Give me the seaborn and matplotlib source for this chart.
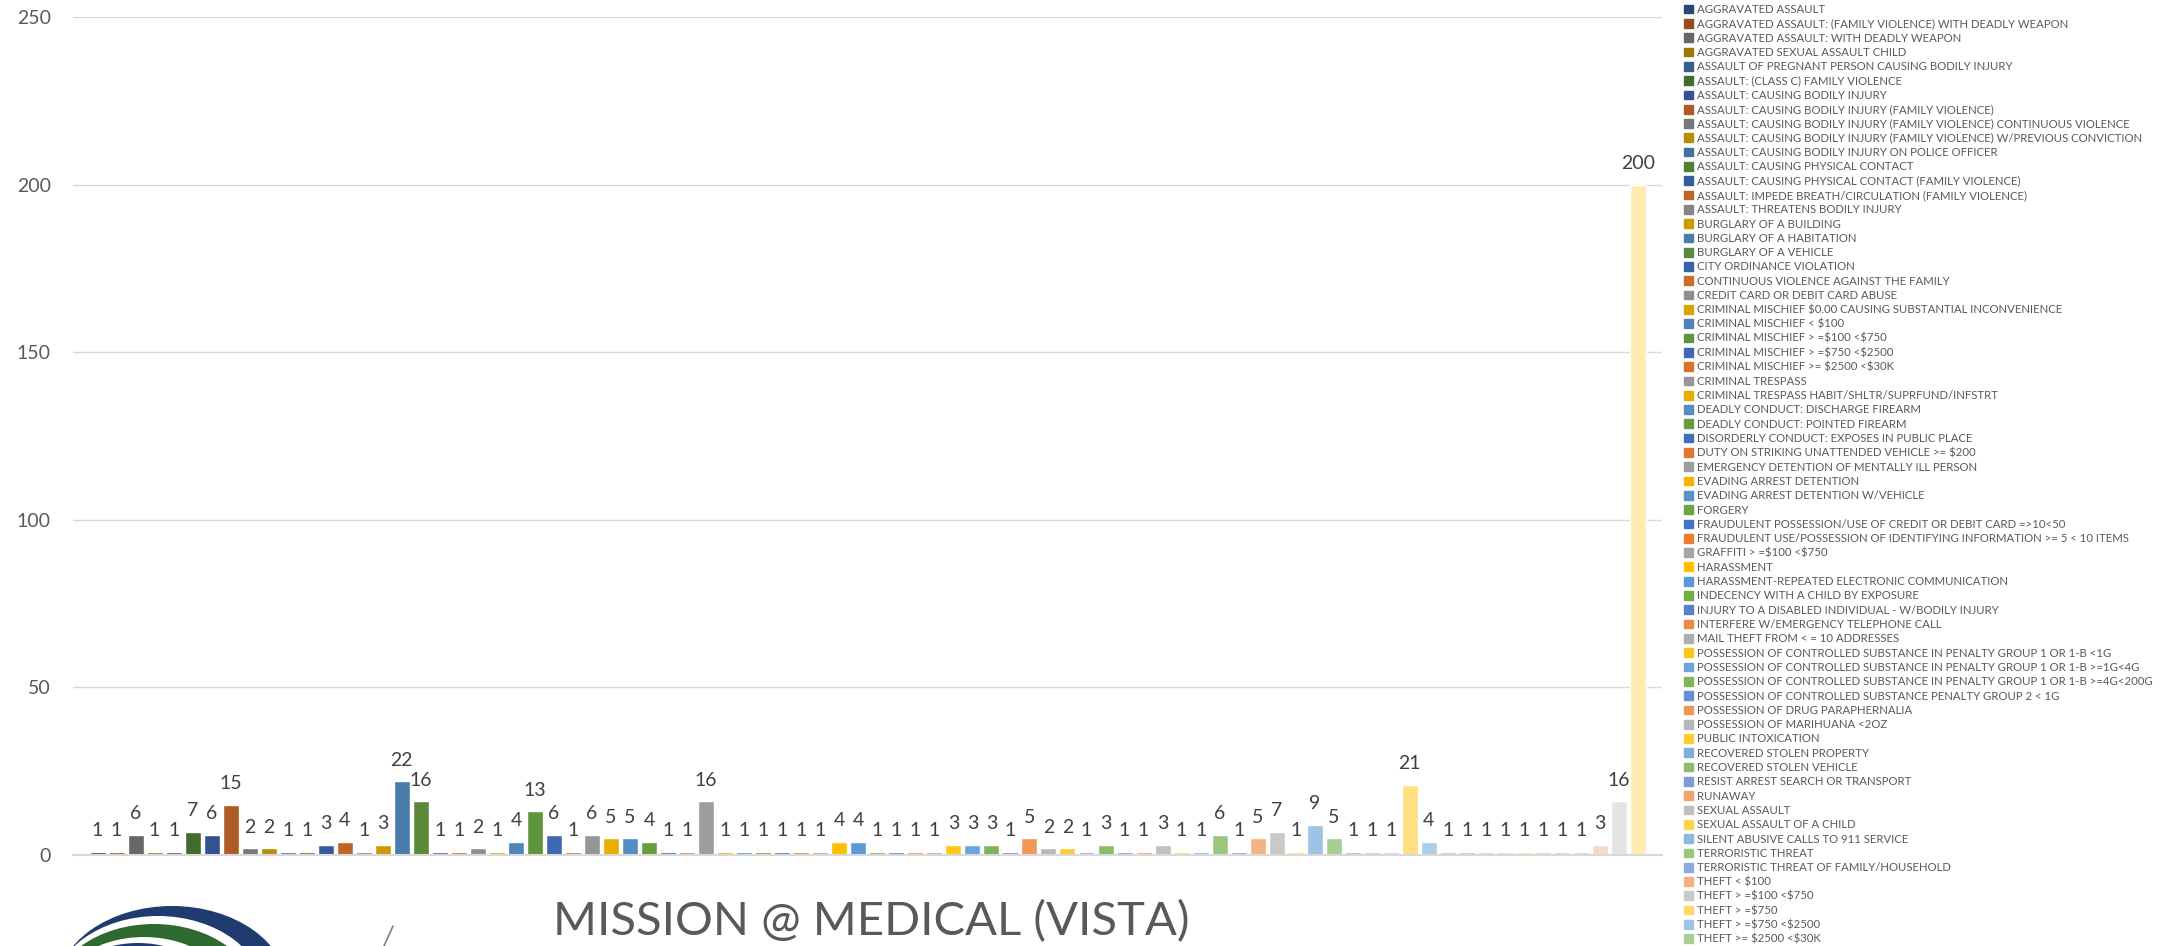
import matplotlib
matplotlib.use("Agg")
import matplotlib.pyplot as plt
import matplotlib.patches as mpatches
from matplotlib.font_manager import FontProperties
import pandas as pd
import seaborn as sns

# offense categories in the order Excel drew them (the legend on the page shows the first 66)
offenses = [
    "AGGRAVATED ASSAULT",
    "AGGRAVATED ASSAULT: (FAMILY VIOLENCE) WITH DEADLY WEAPON",
    "AGGRAVATED ASSAULT: WITH DEADLY WEAPON",
    "AGGRAVATED SEXUAL ASSAULT CHILD",
    "ASSAULT OF PREGNANT PERSON CAUSING BODILY INJURY",
    "ASSAULT: (CLASS C) FAMILY VIOLENCE",
    "ASSAULT: CAUSING BODILY INJURY",
    "ASSAULT: CAUSING BODILY INJURY (FAMILY VIOLENCE)",
    "ASSAULT: CAUSING BODILY INJURY (FAMILY VIOLENCE) CONTINUOUS VIOLENCE",
    "ASSAULT: CAUSING BODILY INJURY (FAMILY VIOLENCE) W/PREVIOUS CONVICTION",
    "ASSAULT: CAUSING BODILY INJURY ON POLICE OFFICER",
    "ASSAULT: CAUSING PHYSICAL CONTACT",
    "ASSAULT: CAUSING PHYSICAL CONTACT (FAMILY VIOLENCE)",
    "ASSAULT: IMPEDE BREATH/CIRCULATION (FAMILY VIOLENCE)",
    "ASSAULT: THREATENS BODILY INJURY",
    "BURGLARY OF A BUILDING",
    "BURGLARY OF A HABITATION",
    "BURGLARY OF A VEHICLE",
    "CITY ORDINANCE VIOLATION",
    "CONTINUOUS VIOLENCE AGAINST THE FAMILY",
    "CREDIT CARD OR DEBIT CARD ABUSE",
    "CRIMINAL MISCHIEF $0.00 CAUSING SUBSTANTIAL INCONVENIENCE",
    "CRIMINAL MISCHIEF < $100",
    "CRIMINAL MISCHIEF > =$100 <$750",
    "CRIMINAL MISCHIEF > =$750 <$2500",
    "CRIMINAL MISCHIEF >= $2500 <$30K",
    "CRIMINAL TRESPASS",
    "CRIMINAL TRESPASS HABIT/SHLTR/SUPRFUND/INFSTRT",
    "DEADLY CONDUCT: DISCHARGE FIREARM",
    "DEADLY CONDUCT: POINTED FIREARM",
    "DISORDERLY CONDUCT: EXPOSES IN PUBLIC PLACE",
    "DUTY ON STRIKING UNATTENDED VEHICLE >= $200",
    "EMERGENCY DETENTION OF MENTALLY ILL PERSON",
    "EVADING ARREST DETENTION",
    "EVADING ARREST DETENTION W/VEHICLE",
    "FORGERY",
    "FRAUDULENT POSSESSION/USE OF CREDIT OR DEBIT CARD =>10<50",
    "FRAUDULENT USE/POSSESSION OF IDENTIFYING INFORMATION >= 5 < 10 ITEMS",
    "GRAFFITI > =$100 <$750",
    "HARASSMENT",
    "HARASSMENT-REPEATED ELECTRONIC COMMUNICATION",
    "INDECENCY WITH A CHILD BY EXPOSURE",
    "INJURY TO A DISABLED INDIVIDUAL - W/BODILY INJURY",
    "INTERFERE W/EMERGENCY TELEPHONE CALL",
    "MAIL THEFT FROM < = 10 ADDRESSES",
    "POSSESSION OF CONTROLLED SUBSTANCE IN PENALTY GROUP 1 OR 1-B <1G",
    "POSSESSION OF CONTROLLED SUBSTANCE IN PENALTY GROUP 1 OR 1-B >=1G<4G",
    "POSSESSION OF CONTROLLED SUBSTANCE IN PENALTY GROUP 1 OR 1-B >=4G<200G",
    "POSSESSION OF CONTROLLED SUBSTANCE PENALTY GROUP 2 < 1G",
    "POSSESSION OF DRUG PARAPHERNALIA",
    "POSSESSION OF MARIHUANA <2OZ",
    "PUBLIC INTOXICATION",
    "RECOVERED STOLEN PROPERTY",
    "RECOVERED STOLEN VEHICLE",
    "RESIST ARREST SEARCH OR TRANSPORT",
    "RUNAWAY",
    "SEXUAL ASSAULT",
    "SEXUAL ASSAULT OF A CHILD",
    "SILENT ABUSIVE CALLS TO 911 SERVICE",
    "TERRORISTIC THREAT",
    "TERRORISTIC THREAT OF FAMILY/HOUSEHOLD",
    "THEFT < $100",
    "THEFT > =$100 <$750",
    "THEFT > =$750",
    "THEFT > =$750 <$2500",
    "THEFT >= $2500 <$30K",
    # below here the legend runs off the page
    "THEFT OF FIREARM",
    "THEFT OF PROPERTY",
    "THEFT OF SERVICE",
    "TRAFFIC ACCIDENT",
    "TRESPASS WARNING",
    "UNAUTHORIZED USE OF VEHICLE",
    "UNLAWFUL CARRYING WEAPON",
    "UNLAWFUL RESTRAINT",
    "VIOLATION OF BOND CONDITIONS",
    "VIOLATION OF PAROLE",
    "VIOLATION OF PROTECTIVE ORDER",
    "WARRANT ARREST",
    "WARRANT SERVICE",
    "WELFARE CONCERN",
    "OTHER CALLS FOR SERVICE",
    "(BLANK)",
]

counts = [
    1, 1, 6, 1, 1, 7, 6, 15, 2, 2,
    1, 1, 3, 4, 1, 3, 22, 16, 1, 1,
    2, 1, 4, 13, 6, 1, 6, 5, 5, 4,
    1, 1, 16, 1, 1, 1, 1, 1, 1, 4,
    4, 1, 1, 1, 1, 3, 3, 3, 1, 5,
    2, 2, 1, 3, 1, 1, 3, 1, 1, 6,
    1, 5, 7, 1, 9, 5, 1, 1, 1, 21,
    4, 1, 1, 1, 1, 1, 1, 1, 1, 3,
    16, 200,
]

location = "MISSION @ MEDICAL (VISTA)"
legend_rows = 66  # entries that fit on the page

# Office accent colours, cycled with a darker -> lighter shade per round (like Excel does)
accents = ["#4472C4", "#ED7D31", "#A5A5A5", "#FFC000", "#5B9BD5", "#70AD47"]
shades = [-0.38, -0.27, -0.2, -0.14, -0.09, -0.05, 0.0, 0.1, 0.2, 0.3, 0.4, 0.5, 0.6, 0.7]


def shade(hex_color, m):
    r, g, b = matplotlib.colors.to_rgb(hex_color)
    if m < 0:
        return (r * (1 + m), g * (1 + m), b * (1 + m))
    return (r + (1 - r) * m, g + (1 - g) * m, b + (1 - b) * m)


palette = [shade(accents[i % 6], shades[i // 6]) for i in range(len(offenses))]

df = pd.DataFrame({"offense": offenses, "count": counts})

sns.set_style("white")
plt.rcParams["font.family"] = ["Lato", "DejaVu Sans"]
plt.rcParams["text.parse_math"] = False  # labels are full of $ signs

W, H = 2167, 946
fig = plt.figure(figsize=(W / 100, H / 100), dpi=100)

# background layer in pixel coords for the logo
deco = fig.add_axes([0, 0, 1, 1], zorder=0)
deco.set_xlim(0, W)
deco.set_ylim(H, 0)
deco.axis("off")
for cx, cy, w, h, col in [
    (172, 990, 232, 168, "#203B70"),
    (158, 996, 214, 160, "white"),
    (154, 999, 206, 150, "#2E6930"),
    (144, 1012, 192, 150, "white"),
    (138, 1016, 182, 146, "#203B70"),
]:
    deco.add_patch(mpatches.Ellipse((cx, cy), w, h, color=col, lw=0))
deco.plot([393, 384], [926, 946], color="#7F7F7F", lw=1.2)

ax = fig.add_axes([73 / W, 1 - 855 / H, (1662 - 73) / W, (855 - 17) / H], zorder=1)
sns.barplot(data=df, x="offense", y="count", hue="offense", palette=palette,
            saturation=1, width=0.84, errorbar=None, legend=False, ax=ax)

for c in ax.containers:
    ax.bar_label(c, padding=9, fontsize=14, color="#404040")

ax.set_xlim(-1.29, 82.26)
ax.set_ylim(0, 250)
ax.set_yticks(range(0, 251, 50))
ax.set_xticks([])
ax.set_xlabel("")
ax.set_ylabel("")
ax.tick_params(axis="y", length=0, pad=16, labelsize=14, labelcolor="#595959")
ax.yaxis.grid(True, color="#D9D9D9", lw=1)
ax.set_axisbelow(True)
for s in ["left", "right", "top"]:
    ax.spines[s].set_visible(False)
ax.spines["bottom"].set_color("#D9D9D9")
ax.spines["bottom"].set_linewidth(1.5)

handles = [mpatches.Patch(color=palette[i], label=offenses[i]) for i in range(legend_rows)]
fig.legend(handles=handles, loc="upper left", bbox_to_anchor=(1684 / W, 1 - 4 / H),
           frameon=False, prop=FontProperties(family="Lato", size=8.2),
           labelcolor="#595959", handlelength=0.8, handleheight=0.8,
           handletextpad=0.3, labelspacing=0.29, borderpad=0, borderaxespad=0)

fig.text(553 / W, 1 - 935 / H, location, fontsize=34,
         color="#595959", va="baseline", ha="left")

fig.savefig("out.png", dpi=100)
